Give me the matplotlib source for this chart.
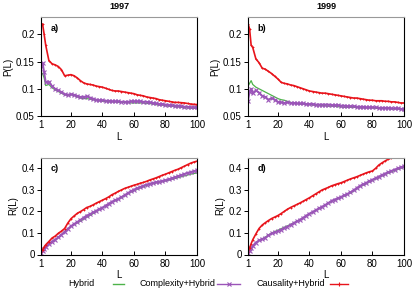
import matplotlib
matplotlib.use("Agg")
import matplotlib.pyplot as plt
from matplotlib.lines import Line2D

plt.rcParams['font.family'] = ['Liberation Sans', 'DejaVu Sans']

# rank cut-off L
L = [1, 2, 3] + list(range(4, 101, 2))

# 1997, precision P(L)
p97_hyb = [0.130, 0.128, 0.120, 0.106, 0.108, 0.102, 0.098, 0.095, 0.092, 0.089, 0.088, 0.089,
           0.088, 0.085, 0.083, 0.082, 0.082, 0.081, 0.080, 0.079, 0.078, 0.077, 0.077, 0.076,
           0.076, 0.076, 0.075, 0.075, 0.075, 0.075, 0.074, 0.074, 0.074, 0.074, 0.074, 0.073,
           0.073, 0.072, 0.071, 0.070, 0.070, 0.069, 0.068, 0.068, 0.067, 0.067, 0.066, 0.065,
           0.065, 0.064, 0.064, 0.064]
p97_comp = [0.142, 0.148, 0.130, 0.112, 0.113, 0.105, 0.100, 0.097, 0.094, 0.090, 0.089, 0.090,
            0.089, 0.087, 0.085, 0.085, 0.086, 0.084, 0.082, 0.080, 0.079, 0.079, 0.078, 0.078,
            0.077, 0.077, 0.077, 0.076, 0.076, 0.076, 0.077, 0.077, 0.077, 0.077, 0.076, 0.076,
            0.075, 0.074, 0.073, 0.072, 0.072, 0.071, 0.070, 0.070, 0.069, 0.069, 0.068, 0.067,
            0.067, 0.066, 0.066, 0.066]
p97_caus = [0.220, 0.219, 0.200, 0.180, 0.152, 0.146, 0.144, 0.141, 0.135, 0.124, 0.125, 0.126,
            0.124, 0.120, 0.115, 0.111, 0.109, 0.108, 0.107, 0.105, 0.104, 0.103, 0.101, 0.099,
            0.097, 0.096, 0.096, 0.095, 0.094, 0.093, 0.092, 0.091, 0.089, 0.088, 0.087, 0.085,
            0.084, 0.083, 0.082, 0.080, 0.079, 0.078, 0.077, 0.076, 0.075, 0.075, 0.0745, 0.074,
            0.073, 0.072, 0.0715, 0.071]

# 1999, precision P(L)
p99_hyb = [0.105, 0.110, 0.115, 0.108, 0.103, 0.100, 0.097, 0.094, 0.091, 0.088, 0.085, 0.082,
           0.080, 0.079, 0.077, 0.075, 0.074, 0.073, 0.072, 0.072, 0.071, 0.071, 0.070, 0.070,
           0.070, 0.069, 0.069, 0.068, 0.068, 0.068, 0.067, 0.067, 0.066, 0.066, 0.066, 0.066,
           0.066, 0.065, 0.065, 0.065, 0.065, 0.065, 0.064, 0.064, 0.064, 0.064, 0.064, 0.063,
           0.063, 0.063, 0.063, 0.063]
p99_comp = [0.078, 0.095, 0.100, 0.092, 0.097, 0.093, 0.087, 0.085, 0.080, 0.083, 0.080, 0.076,
            0.075, 0.074, 0.075, 0.074, 0.074, 0.073, 0.073, 0.073, 0.072, 0.072, 0.072, 0.071,
            0.071, 0.071, 0.071, 0.071, 0.070, 0.070, 0.070, 0.069, 0.069, 0.068, 0.068, 0.068,
            0.067, 0.067, 0.067, 0.066, 0.066, 0.066, 0.066, 0.065, 0.065, 0.065, 0.065, 0.064,
            0.064, 0.064, 0.063, 0.063]
p99_caus = [0.220, 0.210, 0.180, 0.176, 0.155, 0.148, 0.138, 0.136, 0.132, 0.128, 0.123, 0.118,
            0.112, 0.110, 0.109, 0.107, 0.106, 0.104, 0.102, 0.100, 0.098, 0.096, 0.095, 0.094,
            0.093, 0.092, 0.092, 0.091, 0.090, 0.089, 0.088, 0.087, 0.086, 0.085, 0.084, 0.083,
            0.083, 0.082, 0.081, 0.080, 0.079, 0.079, 0.078, 0.078, 0.078, 0.077, 0.077, 0.076,
            0.076, 0.075, 0.074, 0.074]

# 1997, recall R(L)
r97_hyb = [0.008, 0.017, 0.026, 0.034, 0.047, 0.059, 0.068, 0.078, 0.091, 0.104, 0.117, 0.129,
           0.138, 0.146, 0.154, 0.163, 0.172, 0.180, 0.189, 0.198, 0.207, 0.215, 0.224, 0.233,
           0.241, 0.248, 0.254, 0.262, 0.271, 0.280, 0.288, 0.295, 0.301, 0.307, 0.313, 0.319,
           0.324, 0.328, 0.331, 0.334, 0.337, 0.340, 0.343, 0.347, 0.351, 0.355, 0.359, 0.363,
           0.367, 0.371, 0.374, 0.377]
r97_comp = [0.008, 0.018, 0.027, 0.035, 0.048, 0.060, 0.069, 0.079, 0.092, 0.105, 0.118, 0.131,
            0.141, 0.150, 0.160, 0.170, 0.180, 0.186, 0.194, 0.202, 0.210, 0.217, 0.226, 0.235,
            0.244, 0.251, 0.257, 0.265, 0.274, 0.283, 0.292, 0.300, 0.306, 0.312, 0.318, 0.323,
            0.327, 0.331, 0.334, 0.337, 0.340, 0.343, 0.347, 0.352, 0.357, 0.362, 0.367, 0.372,
            0.377, 0.381, 0.385, 0.389]
r97_caus = [0.010, 0.022, 0.035, 0.045, 0.060, 0.076, 0.085, 0.098, 0.108, 0.120, 0.145, 0.165,
            0.178, 0.190, 0.198, 0.207, 0.217, 0.222, 0.229, 0.237, 0.244, 0.251, 0.258, 0.266,
            0.276, 0.283, 0.291, 0.298, 0.305, 0.310, 0.315, 0.320, 0.324, 0.329, 0.333, 0.338,
            0.344, 0.349, 0.354, 0.360, 0.366, 0.371, 0.377, 0.383, 0.389, 0.394, 0.401, 0.408,
            0.415, 0.422, 0.427, 0.431]

# 1999, recall R(L)
r99_hyb = [0.005, 0.015, 0.027, 0.039, 0.054, 0.065, 0.072, 0.080, 0.090, 0.099, 0.106, 0.112,
           0.119, 0.126, 0.132, 0.139, 0.146, 0.153, 0.160, 0.169, 0.178, 0.187, 0.195, 0.203,
           0.211, 0.219, 0.227, 0.236, 0.245, 0.251, 0.257, 0.263, 0.270, 0.277, 0.284, 0.293,
           0.303, 0.313, 0.320, 0.327, 0.335, 0.342, 0.349, 0.356, 0.363, 0.370, 0.376, 0.382,
           0.388, 0.393, 0.398, 0.403]
r99_comp = [0.005, 0.015, 0.028, 0.040, 0.055, 0.065, 0.071, 0.078, 0.088, 0.097, 0.103, 0.108,
            0.115, 0.122, 0.129, 0.137, 0.145, 0.153, 0.161, 0.170, 0.180, 0.189, 0.197, 0.205,
            0.213, 0.221, 0.229, 0.238, 0.248, 0.254, 0.260, 0.266, 0.273, 0.280, 0.287, 0.297,
            0.307, 0.317, 0.324, 0.331, 0.339, 0.346, 0.353, 0.360, 0.367, 0.374, 0.380, 0.386,
            0.392, 0.398, 0.403, 0.408]
r99_caus = [0.012, 0.030, 0.050, 0.068, 0.095, 0.120, 0.136, 0.147, 0.157, 0.166, 0.173, 0.180,
            0.189, 0.199, 0.209, 0.217, 0.224, 0.231, 0.238, 0.246, 0.254, 0.262, 0.271, 0.280,
            0.289, 0.298, 0.304, 0.310, 0.317, 0.322, 0.327, 0.331, 0.337, 0.343, 0.349, 0.354,
            0.359, 0.365, 0.371, 0.377, 0.382, 0.386, 0.398, 0.413, 0.423, 0.432, 0.440, 0.446,
            0.452, 0.458, 0.463, 0.468]

series_names = ['Hybrid', 'Complexity+Hybrid', 'Causality+Hybrid']

GREEN = '#4db34a'
PURPLE = '#9b55b8'
RED = '#e8141b'

fig = plt.figure(figsize=(4.15, 2.89), dpi=100)

boxes = {
    'a': [41/415, 1-116/289, 156/415, 99/289],
    'b': [248/415, 1-116/289, 156/415, 99/289],
    'c': [41/415, 1-254.5/289, 156/415, 97/289],
    'd': [248/415, 1-254.5/289, 156/415, 97/289],
}
panels = [
    ('a', p97_hyb, p97_comp, p97_caus, 'P(L)'),
    ('b', p99_hyb, p99_comp, p99_caus, 'P(L)'),
    ('c', r97_hyb, r97_comp, r97_caus, 'R(L)'),
    ('d', r99_hyb, r99_comp, r99_caus, 'R(L)'),
]

for name, hyb, comp, caus, ylab in panels:
    ax = fig.add_axes(boxes[name])
    ax.plot(L, hyb, color=GREEN, lw=0.9)
    ax.plot(L, comp, color=PURPLE, lw=1.4, marker='x', ms=2.6, mew=0.8)
    ax.plot(L, caus, color=RED, lw=1.2, marker='+', ms=1.5, mew=0.6)
    ax.set_xlim(1, 100)
    ax.set_xticks([1, 20, 40, 60, 80, 100])
    if ylab == 'P(L)':
        ax.set_ylim(0.05, 0.232)
        ax.set_yticks([0.05, 0.1, 0.15, 0.2])
        ax.set_yticklabels(['0.05', '0.1', '0.15', '0.2'])
    else:
        ax.set_ylim(0, 0.448)
        ax.set_yticks([0, 0.1, 0.2, 0.3, 0.4])
        ax.set_yticklabels(['0', '0.1', '0.2', '0.3', '0.4'])
    ax.tick_params(axis='y', direction='out', length=3, width=0.7, labelsize=7, pad=1.5)
    ax.tick_params(axis='x', direction='in', length=3, width=0.7, labelsize=7, pad=3)
    for s in ['left', 'bottom', 'right']:
        ax.spines[s].set_linewidth(0.8)
    ax.spines['top'].set_color('#999999')
    ax.spines['top'].set_linewidth(0.8)
    ax.set_xlabel('L', fontsize=7, labelpad=1)
    ax.set_ylabel(ylab, fontsize=7, labelpad=2)
    ax.text(0.06, 0.93, name + ')', transform=ax.transAxes, fontsize=6.5,
            fontweight='bold', va='top')
    if name == 'a':
        ax.set_title('1997', fontsize=6.5, fontweight='bold', pad=6)
    if name == 'b':
        ax.set_title('1999', fontsize=6.5, fontweight='bold', pad=6)

# gnuplot-style key: label, then sample to its right
key_y = 1 - 284/289
key = [(94, 113, 124, GREEN, None), (215, 217, 240, PURPLE, 'x'), (325, 330, 348, RED, '+')]
for label, (tx, x0, x1, col, mk) in zip(series_names, key):
    fig.text(tx/415, key_y, label, ha='right', va='center', fontsize=6.5)
    fig.add_artist(Line2D([x0/415, x1/415], [key_y, key_y], color=col, lw=1.0,
                          transform=fig.transFigure))
    if mk:
        fig.add_artist(Line2D([(x0 + x1)/830], [key_y], color=col, lw=0, marker=mk,
                              ms=2.5, mew=0.8, transform=fig.transFigure))

fig.savefig('out.png', dpi=100)
